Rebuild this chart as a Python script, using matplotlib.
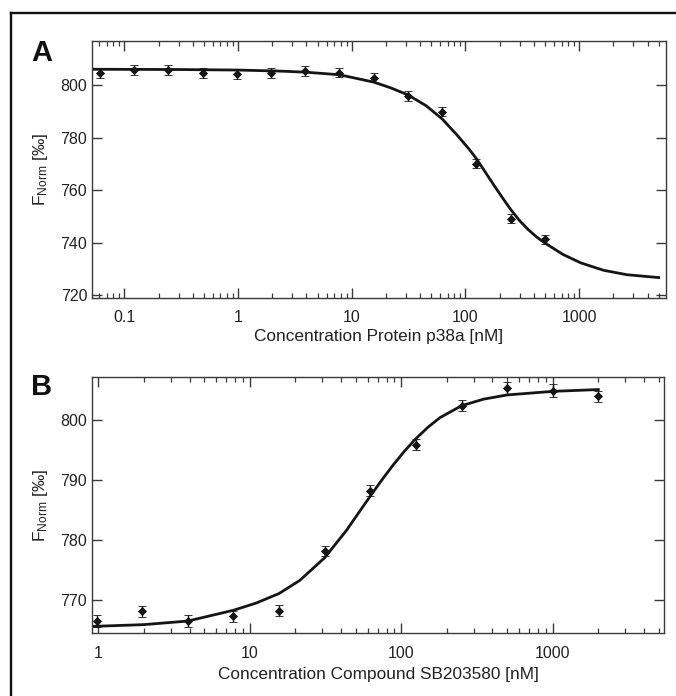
import numpy as np
import matplotlib
matplotlib.use("Agg")
import matplotlib.pyplot as plt
from matplotlib.lines import Line2D
from matplotlib.ticker import FixedLocator, FixedFormatter, LogLocator, NullFormatter

plt.rcParams['font.family'] = ['Liberation Sans', 'DejaVu Sans']
plt.rcParams['mathtext.fontset'] = 'custom'
plt.rcParams['mathtext.rm'] = 'Liberation Sans'
plt.rcParams['mathtext.it'] = 'Liberation Sans:italic'

# ---------------- Panel A data ----------------
conc_a = [0.061, 0.122, 0.244, 0.488, 0.977, 1.95, 3.9, 7.8, 15.6, 31.25, 62.5, 125, 250, 500]
fnorm_a = [804.7, 805.8, 805.8, 804.7, 804.2, 804.7, 805.6, 804.9, 803.0, 795.9, 790.0, 770.1, 749.1, 741.3]
err_a = [1.8, 1.9, 1.9, 1.8, 1.8, 1.9, 1.8, 1.7, 1.8, 1.9, 1.8, 1.7, 1.8, 1.7]
fit_conc_a = [0.052, 0.3, 1, 2.33, 3.9, 7.8, 15.6, 22, 31.25, 45, 62.5, 85, 108, 125, 150, 176,
              210, 250, 300, 355, 420, 500, 716, 1035, 1635, 2625, 5000]
fit_a = [806.2, 806.1, 805.9, 805.5, 805.1, 804.1, 801.3, 799.1, 796.4, 792.3, 787.2, 780.9,
         775.6, 772.0, 766.8, 762.2, 757.3, 752.6, 748.3, 745.0, 742.2, 739.8, 735.5, 732.2,
         729.4, 727.7, 726.6]
xticks_a = [0.1, 1, 10, 100, 1000]
xticklabels_a = ['0.1', '1', '10', '100', '1000']
yticks_a = [720, 740, 760, 780, 800]

# ---------------- Panel B data ----------------
conc_b = [0.977, 1.95, 3.9, 7.8, 15.6, 31.25, 62.5, 125, 250, 500, 1000, 2000]
fnorm_b = [766.4, 768.0, 766.4, 767.2, 768.1, 778.1, 788.2, 795.9, 802.4, 805.3, 804.9, 804.0]
err_b = [1.0, 0.9, 1.0, 0.9, 0.9, 0.9, 0.9, 0.9, 0.9, 1.0, 1.1, 0.9]
fit_conc_b = [0.908, 2.0, 3.9, 7.8, 11, 15.6, 21.4, 31.25, 43.6, 52, 62.5, 75, 88.5, 105, 125,
              150, 180, 250, 350, 500, 1000, 2000]
fit_b = [765.5, 765.8, 766.4, 768.2, 769.4, 771.0, 773.2, 777.0, 781.6, 784.4, 787.3, 790.1,
         792.5, 794.8, 796.9, 798.8, 800.4, 802.4, 803.5, 804.2, 804.8, 805.1]
xticks_b = [1, 10, 100, 1000]
xticklabels_b = ['1', '10', '100', '1000']
yticks_b = [770, 780, 790, 800]

W, H = 676, 696
fig = plt.figure(figsize=(W / 100, H / 100), dpi=100)

TXT = '#222222'
SP = '#3a3a3a'
MK = '#151515'


def make_axes(rect, conc, fn, err, fc, fv, xt, xtl, yt, xlim, ylim, xlabel, xlpad):
    ax = fig.add_axes(rect)
    ax.set_xscale('log')
    ax.plot(fc, fv, color=MK, lw=2.0, solid_joinstyle='round', zorder=2)
    ax.errorbar(conc, fn, yerr=err, fmt='D', color=MK, ms=4.1, mew=0.6, mec=MK,
                ecolor=MK, elinewidth=1.0, capsize=2.6, capthick=1.0, zorder=3)
    ax.set_xlim(*xlim)
    ax.set_ylim(*ylim)
    ax.xaxis.set_major_locator(FixedLocator(xt))
    ax.xaxis.set_major_formatter(FixedFormatter(xtl))
    ax.xaxis.set_minor_locator(LogLocator(base=10, subs=np.arange(2, 10), numticks=30))
    ax.xaxis.set_minor_formatter(NullFormatter())
    ax.set_yticks(yt)
    ax.tick_params(axis='x', which='major', direction='in', length=7, width=1.0,
                   top=True, bottom=True, pad=9, labelsize=11.5, colors=SP, labelcolor=TXT)
    ax.tick_params(axis='x', which='minor', direction='in', length=3.5, width=0.9,
                   top=True, bottom=True, colors=SP)
    ax.tick_params(axis='y', which='major', direction='in', length=7, width=1.0,
                   left=True, right=True, pad=3.5, labelsize=11.5, colors=SP, labelcolor=TXT)
    ax.tick_params(axis='y', which='minor', left=False, right=False)
    for s in ax.spines.values():
        s.set_color(SP)
        s.set_linewidth(1.0)
    ax.set_xlabel(xlabel, fontsize=12.4, color=TXT, labelpad=xlpad)
    ax.set_ylabel(r'F$_{\mathrm{Norm}}$ [‰]', fontsize=12.4, color=TXT)
    ax.yaxis.set_label_coords(-0.073, 0.5)
    return ax


axA = make_axes([92 / W, 1 - 298 / H, (666 - 92) / W, (298 - 41) / H],
                conc_a, fnorm_a, err_a, fit_conc_a, fit_a, xticks_a, xticklabels_a, yticks_a,
                (0.052, 5800), (718.8, 817.0), 'Concentration Protein p38a [nM]', 2.5)
axB = make_axes([92 / W, 1 - 633 / H, (664 - 92) / W, (633 - 377) / H],
                conc_b, fnorm_b, err_b, fit_conc_b, fit_b, xticks_b, xticklabels_b, yticks_b,
                (0.908, 5430), (764.4, 807.2), 'Concentration Compound SB203580 [nM]', 5)

fig.text(31 / W, 1 - 61 / H, 'A', fontsize=21, fontweight='bold', color='#111111',
         ha='left', va='baseline')
fig.text(31 / W, 1 - 395 / H, 'B', fontsize=21, fontweight='bold', color='#111111',
         ha='left', va='baseline')

# outer frame (left and top edges only)
fig.add_artist(Line2D([11.3 / W, 11.3 / W], [0, 1 - 12.8 / H], transform=fig.transFigure,
                      color='#111111', lw=1.7, solid_capstyle='projecting'))
fig.add_artist(Line2D([11.3 / W, 1], [1 - 12.8 / H, 1 - 12.8 / H], transform=fig.transFigure,
                      color='#111111', lw=1.7, solid_capstyle='projecting'))

fig.savefig('out.png', dpi=100)
